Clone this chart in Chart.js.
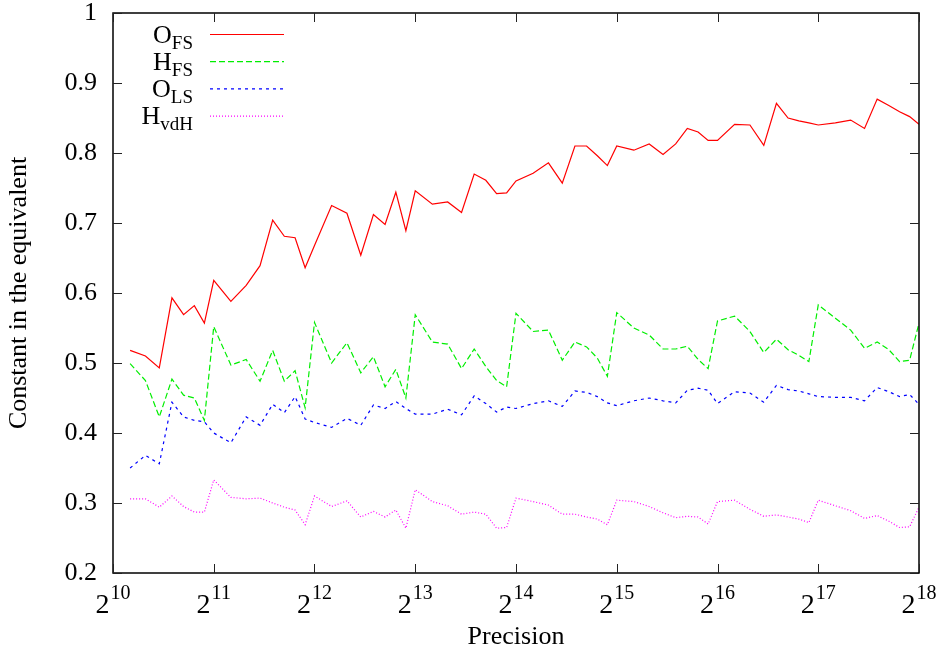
<!DOCTYPE html>
<html>
<head>
<meta charset="utf-8">
<script src="https://cdn.jsdelivr.net/npm/chart.js@4/dist/chart.umd.min.js"></script>
<style>
  html, body { margin: 0; padding: 0; background: #fff; }
  #c { display: block; }
</style>
</head>
<body>
<canvas id="c" width="940" height="658"></canvas>
<script>
// ====== data ======
const precision = [
  1152, 1280, 1408, 1536, 1664, 1792, 1920, 2048,
  2304, 2560, 2816, 3072, 3328, 3584, 3840, 4096,
  4608, 5120, 5632, 6144, 6656, 7168, 7680, 8192,
  9216, 10240, 11264, 12288, 13312, 14336, 15360, 16384,
  18432, 20480, 22528, 24576, 26624, 28672, 30720, 32768,
  36864, 40960, 45056, 49152, 53248, 57344, 61440, 65536,
  73728, 81920, 90112, 98304, 106496, 114688, 122880, 131072,
  147456, 163840, 180224, 196608, 212992, 229376, 245760, 262144
];

const oFS = [
  0.518, 0.510, 0.493, 0.593, 0.569, 0.582, 0.557, 0.618,
  0.588, 0.611, 0.639, 0.704, 0.681, 0.679, 0.636, 0.668,
  0.725, 0.714, 0.654, 0.712, 0.698, 0.744, 0.689, 0.746,
  0.727, 0.730, 0.715, 0.770, 0.761, 0.742, 0.743, 0.760,
  0.771, 0.786, 0.757, 0.810, 0.810, 0.796, 0.782, 0.810,
  0.804, 0.813, 0.798, 0.813, 0.835, 0.830, 0.818, 0.818,
  0.841, 0.840, 0.811, 0.871, 0.850, 0.846, 0.843, 0.840,
  0.843, 0.847, 0.835, 0.877, 0.868, 0.859, 0.852, 0.841
];

const hFS = [
  0.499, 0.475, 0.423, 0.477, 0.454, 0.450, 0.418, 0.552,
  0.497, 0.505, 0.474, 0.518, 0.474, 0.489, 0.436, 0.558,
  0.500, 0.529, 0.486, 0.509, 0.466, 0.491, 0.450, 0.569,
  0.530, 0.527, 0.492, 0.520, 0.495, 0.475, 0.466, 0.571,
  0.545, 0.547, 0.504, 0.530, 0.523, 0.507, 0.481, 0.572,
  0.550, 0.540, 0.520, 0.520, 0.524, 0.505, 0.492, 0.560,
  0.567, 0.545, 0.515, 0.534, 0.519, 0.511, 0.502, 0.583,
  0.564, 0.547, 0.521, 0.530, 0.519, 0.502, 0.504, 0.557
];

const oLS = [
  0.350, 0.368, 0.356, 0.444, 0.423, 0.418, 0.416, 0.400,
  0.386, 0.423, 0.411, 0.441, 0.429, 0.452, 0.420, 0.415,
  0.408, 0.421, 0.411, 0.440, 0.435, 0.445, 0.435, 0.427,
  0.427, 0.434, 0.426, 0.453, 0.442, 0.430, 0.437, 0.435,
  0.442, 0.446, 0.438, 0.460, 0.458, 0.452, 0.443, 0.439,
  0.446, 0.450, 0.446, 0.443, 0.461, 0.464, 0.461, 0.442,
  0.459, 0.457, 0.444, 0.468, 0.462, 0.460, 0.456, 0.452,
  0.451, 0.451, 0.446, 0.465, 0.459, 0.452, 0.455, 0.441
];

const hvdH = [
  0.306, 0.306, 0.294, 0.310, 0.295, 0.287, 0.287, 0.333,
  0.308, 0.306, 0.307, 0.300, 0.294, 0.290, 0.269, 0.310,
  0.295, 0.303, 0.280, 0.288, 0.280, 0.290, 0.264, 0.319,
  0.302, 0.296, 0.284, 0.287, 0.284, 0.264, 0.265, 0.307,
  0.302, 0.297, 0.284, 0.284, 0.280, 0.277, 0.269, 0.304,
  0.302, 0.295, 0.286, 0.279, 0.281, 0.280, 0.270, 0.302,
  0.304, 0.291, 0.281, 0.283, 0.280, 0.277, 0.272, 0.304,
  0.296, 0.289, 0.278, 0.282, 0.274, 0.265, 0.266, 0.294
];

const legendMain = ["O", "H", "O", "H"];
const legendSub  = ["FS", "FS", "LS", "vdH"];
const xExponents = [10, 11, 12, 13, 14, 15, 16, 17, 18];
const yTicks     = [0.2, 0.3, 0.4, 0.5, 0.6, 0.7, 0.8, 0.9, 1];

const SERIF = "'Liberation Serif', 'DejaVu Serif', serif";

const pts = arr => arr.map((v, i) => ({ x: precision[i], y: v }));

const series = [
  { data: oFS,  color: "#ff0000", dash: [] },
  { data: hFS,  color: "#00ee00", dash: [6, 3] },
  { data: oLS,  color: "#0000ff", dash: [3, 4] },
  { data: hvdH, color: "#ff00ff", dash: [1, 2] }
];

// ====== frame, ticks, labels, legend (gnuplot look) ======
const gnuplotDecor = {
  id: "gnuplotDecor",
  afterDraw(chart) {
    const { ctx, chartArea: a, scales } = chart;
    const xs = scales.x, ys = scales.y;
    ctx.save();

    // border
    ctx.strokeStyle = "#000";
    ctx.lineWidth = 1.5;
    ctx.setLineDash([]);
    ctx.strokeRect(a.left, a.top, a.right - a.left, a.bottom - a.top);

    // inward ticks, mirrored
    ctx.lineWidth = 1;
    ctx.strokeStyle = "#222";
    ctx.beginPath();
    xExponents.forEach(e => {
      const px = Math.round(xs.getPixelForValue(Math.pow(2, e))) + 0.5;
      ctx.moveTo(px, a.bottom); ctx.lineTo(px, a.bottom - 9);
      ctx.moveTo(px, a.top);    ctx.lineTo(px, a.top + 9);
    });
    yTicks.forEach(v => {
      const py = Math.round(ys.getPixelForValue(v)) + 0.5;
      ctx.moveTo(a.left, py);  ctx.lineTo(a.left + 9, py);
      ctx.moveTo(a.right, py); ctx.lineTo(a.right - 9, py);
    });
    ctx.stroke();

    // x tick labels 2^n
    ctx.fillStyle = "#000";
    ctx.textBaseline = "alphabetic";
    ctx.textAlign = "left";
    xExponents.forEach(e => {
      const px = xs.getPixelForValue(Math.pow(2, e));
      ctx.font = "28px " + SERIF;
      const wb = ctx.measureText("2").width;
      ctx.font = "20px " + SERIF;
      const ws = ctx.measureText(String(e)).width;
      const x0 = px - (wb + ws + 1) / 2;
      ctx.font = "28px " + SERIF;
      ctx.fillText("2", x0, 613);
      ctx.font = "20px " + SERIF;
      ctx.fillText(String(e), x0 + wb + 1, 599);
    });

    // axis titles
    ctx.font = "26px " + SERIF;
    ctx.textAlign = "center";
    ctx.textBaseline = "middle";
    ctx.fillText("Precision", (a.left + a.right) / 2, 637);
    ctx.save();
    ctx.translate(19, (a.top + a.bottom) / 2);
    ctx.rotate(-Math.PI / 2);
    ctx.fillText("Constant in the equivalent", 0, 0);
    ctx.restore();

    // legend
    series.forEach((s, i) => {
      const ly = 34.5 + 27.2 * i;
      ctx.strokeStyle = s.color;
      ctx.lineWidth = 1.2;
      ctx.setLineDash(s.dash);
      ctx.beginPath();
      ctx.moveTo(210, ly); ctx.lineTo(284, ly);
      ctx.stroke();
      ctx.setLineDash([]);

      ctx.fillStyle = "#000";
      ctx.textAlign = "left";
      ctx.textBaseline = "alphabetic";
      ctx.font = "19px " + SERIF;
      const ws = ctx.measureText(legendSub[i]).width;
      ctx.font = "26px " + SERIF;
      const wm = ctx.measureText(legendMain[i]).width;
      const right = 193;
      ctx.fillText(legendMain[i], right - ws - wm, ly + 8);
      ctx.font = "19px " + SERIF;
      ctx.fillText(legendSub[i], right - ws, ly + 14);
    });

    ctx.restore();
  }
};

new Chart(document.getElementById("c"), {
  type: "line",
  data: {
    datasets: series.map((s, i) => ({
      label: legendMain[i] + legendSub[i],
      data: pts(s.data),
      borderColor: s.color,
      borderDash: s.dash,
      borderWidth: 1.2,
      pointRadius: 0,
      tension: 0,
      fill: false
    }))
  },
  options: {
    responsive: false,
    animation: false,
    devicePixelRatio: 1,
    layout: { padding: { left: 0, top: 13, right: 21, bottom: 0 } },
    plugins: { legend: { display: false }, tooltip: { enabled: false } },
    scales: {
      x: {
        type: "logarithmic",
        min: 1024, max: 262144,
        grid: { display: false, drawTicks: false },
        border: { display: false },
        ticks: { display: false },
        afterFit: s => { s.height = 85; s.paddingLeft = 0; s.paddingRight = 0; }
      },
      y: {
        type: "linear",
        min: 0.2, max: 1,
        grid: { display: false, drawTicks: false },
        border: { display: false },
        ticks: {
          stepSize: 0.1,
          padding: 16,
          color: "#000",
          font: { family: SERIF, size: 26 },
          callback: v => String(+v.toFixed(1))
        },
        afterFit: s => { s.width = 113; s.paddingTop = 0; s.paddingBottom = 0; }
      }
    }
  },
  plugins: [gnuplotDecor]
});
</script>
</body>
</html>
